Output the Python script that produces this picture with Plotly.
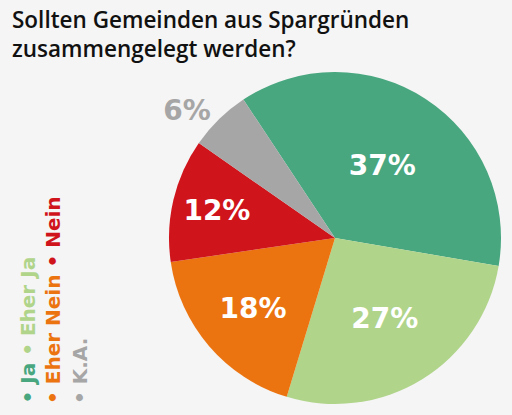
import plotly.graph_objects as go

labels = ["Ja", "Eher Ja", "Eher Nein", "Nein", "K.A."]
values = [37, 27, 18, 12, 6]
colors = ["#48a77f", "#b0d48a", "#ec7410", "#d0141b", "#a6a6a6"]
text_colors = ["white", "white", "white", "white", "#a6a6a6"]
positions = ["inside", "inside", "inside", "inside", "outside"]
title_lines = ["Sollten Gemeinden aus Spargründen", "zusammengelegt werden?"]
legend_groups = [[0, 1], [2, 3], [4]]

W, H = 512, 415
cx, cy, r = 335, 238, 166
TFONT = "Open Sans, Roboto, sans-serif"
BFONT = "DejaVu Sans, Open Sans, sans-serif"

fig = go.Figure(go.Pie(
    labels=labels, values=values, sort=False, direction="clockwise",
    rotation=-33.5,
    marker=dict(colors=colors, line=dict(width=0)),
    texttemplate="%{value}%", textposition=positions,
    insidetextorientation="horizontal",
    textfont=dict(family=BFONT, size=28, color=text_colors, weight=700),
    outsidetextfont=dict(family=BFONT, size=28, color="#a6a6a6", weight=700),
    showlegend=False, hoverinfo="skip",
    domain=dict(x=[(cx - r) / W, (cx + r) / W], y=[(H - cy - r) / H, (H - cy + r) / H]),
))

legend_x = [27, 53, 80]
for gx, grp in zip(legend_x, legend_groups):
    txt = " ".join(f'<span style="color:{colors[i]}">• {labels[i]}</span>' for i in grp)
    fig.add_annotation(
        text=txt, textangle=-90, x=gx / W, y=(H - 405) / H,
        xref="paper", yref="paper", xanchor="center", yanchor="bottom",
        showarrow=False, borderpad=0,
        font=dict(family=BFONT, size=20, weight=700),
    )

title_y = [3, 32]
for ty, line in zip(title_y, title_lines):
    fig.add_annotation(
        text=line, align="left", x=11 / W, y=1 - ty / H, xref="paper", yref="paper",
        xanchor="left", yanchor="top", showarrow=False, borderpad=0,
        font=dict(family=TFONT, size=22.5, color="#111111", weight=600),
    )

fig.update_layout(
    width=W, height=H, margin=dict(l=0, r=0, t=0, b=0),
    paper_bgcolor="#f5f5f5", plot_bgcolor="#f5f5f5",
)
fig.write_html("out.html")
